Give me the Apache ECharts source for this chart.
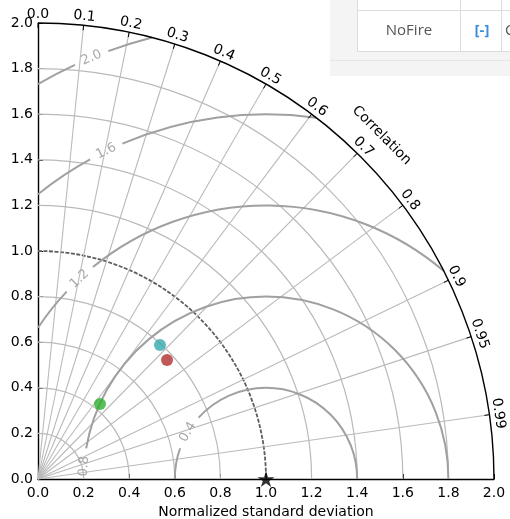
<!DOCTYPE html>
<html><head><meta charset="utf-8">
<script src="https://cdn.jsdelivr.net/npm/echarts@6/dist/echarts.min.js"></script>
<style>html,body{margin:0;padding:0;background:#fff}#c{width:510px;height:519px}</style>
</head><body><div id="c"></div>
<script>
// ---- data ----
const stdAxisTicks = [0.0, 0.2, 0.4, 0.6, 0.8, 1.0, 1.2, 1.4, 1.6, 1.8, 2.0];
const stdGridRadii = [0.2, 0.4, 0.6, 0.8, 1.0, 1.2, 1.4, 1.6, 1.8];
const corrGridValues = [0.1, 0.2, 0.3, 0.4, 0.5, 0.6, 0.7, 0.8, 0.9, 0.95, 0.99];
const corrTickValues = [0.0, 0.1, 0.2, 0.3, 0.4, 0.5, 0.6, 0.7, 0.8, 0.9, 0.95, 0.99];
const corrTickLabels = ['0.0', '0.1', '0.2', '0.3', '0.4', '0.5', '0.6', '0.7', '0.8', '0.9', '0.95', '0.99'];
const rmsLevels = [0.4, 0.8, 1.2, 1.6, 2.0];
const rmsLabels = ['0.4', '0.8', '1.2', '1.6', '2.0'];
const rmsLabelAngleDeg = [149, 176, 133, 116, 112.5];
const maxStd = 2.0;
const refStd = 1.0;
const modelStd = [0.795, 0.770, 0.427];
const modelCorr = [0.673, 0.735, 0.637];
const xAxisName = 'Normalized standard deviation';
const corrAxisName = 'Correlation';

// ---- styles ----
const modelColors = ['#35a9ac', '#b02e2e', '#30b030'];
const FONT = 'DejaVu Sans';
const gridColor = '#bababa';
const rmsColor = '#a0a0a0';

const chart = echarts.init(document.getElementById('c'), null, {renderer: 'canvas'});
const D = Math.PI / 180;

function toXY(std, corr) {
  const th = Math.acos(corr);
  return [std * Math.cos(th), std * Math.sin(th)];
}

const modelData = modelStd.map((s, i) => {
  const p = toXY(s, modelCorr[i]);
  return {value: p, itemStyle: {color: modelColors[i]}};
});

const axisCommon = {
  type: 'value', min: 0, max: maxStd, interval: 0.2,
  splitLine: {show: false},
  axisLine: {lineStyle: {color: '#000', width: 1.4}},
  axisTick: {inside: true, length: 5, lineStyle: {color: '#000'}},
  axisLabel: {color: '#000', fontFamily: FONT, fontSize: 14, formatter: v => v.toFixed(1)}
};

const option = {
  animation: false,
  grid: {left: 38, top: 23, width: 456, height: 456, outerBoundsMode: 'none', containLabel: false},
  xAxis: Object.assign({}, axisCommon, {
    name: xAxisName, nameLocation: 'middle', nameGap: 25,
    nameTextStyle: {color: '#000', fontFamily: FONT, fontSize: 14},
    axisLabel: Object.assign({}, axisCommon.axisLabel, {margin: 7})
  }),
  yAxis: Object.assign({}, axisCommon, {
    axisLabel: Object.assign({}, axisCommon.axisLabel, {margin: 5})
  }),
  series: [
    // std arcs
    {
      type: 'custom', z: 1, clip: false, silent: true,
      data: stdGridRadii.map(r => [r]),
      renderItem(params, api) {
        const r = api.value(0);
        const c = api.coord([0, 0]);
        const R = api.size([r, 0])[0];
        if (Math.abs(r - refStd) < 1e-9) {
          return {type: 'arc', shape: {cx: c[0], cy: c[1], r: R, startAngle: -Math.PI / 2, endAngle: 0, clockwise: true},
            style: {stroke: '#5e5e5e', lineWidth: 1.8, lineDash: [4, 1.5], fill: 'none'}};
        }
        return {type: 'arc', shape: {cx: c[0], cy: c[1], r: R, startAngle: -Math.PI / 2, endAngle: 0, clockwise: true},
          style: {stroke: gridColor, lineWidth: 1.2, fill: 'none'}};
      }
    },
    // correlation radial lines
    {
      type: 'custom', z: 1, clip: false, silent: true,
      data: corrGridValues.map(v => [v]),
      renderItem(params, api) {
        const p0 = api.coord([0, 0]);
        const p1 = api.coord(toXY(maxStd, api.value(0)));
        return {type: 'line', shape: {x1: p0[0], y1: p0[1], x2: p1[0], y2: p1[1]},
          style: {stroke: gridColor, lineWidth: 1.1}};
      }
    },
    // RMS contours
    {
      type: 'custom', z: 2, clip: false, silent: true,
      data: rmsLevels.map((r, i) => [r, rmsLabelAngleDeg[i], i]),
      renderItem(params, api) {
        const r = api.value(0);
        const la = api.value(1) * D;
        const idx = api.value(2);
        const c = api.coord([refStd, 0]);
        const R = api.size([r, 0])[0];
        const unit = api.size([1, 0])[0];
        let a0 = 0, a1 = Math.PI;
        if (refStd + r > maxStd) {
          const x = (maxStd * maxStd - r * r + refStd * refStd) / (2 * refStd);
          const y = Math.sqrt(maxStd * maxStd - x * x);
          a0 = Math.atan2(y, x - refStd);
        }
        if (r > refStd) {
          const y = Math.sqrt(r * r - refStd * refStd);
          a1 = Math.atan2(y, -refStd);
        }
        const half = 18 / (r * unit);
        const segs = [[a0, Math.max(a0, la - half)], [Math.min(a1, la + half), a1]];
        const children = [];
        segs.forEach(s => {
          if (s[1] - s[0] > 1e-3) {
            children.push({type: 'arc', shape: {cx: c[0], cy: c[1], r: R, startAngle: -s[0], endAngle: -s[1], clockwise: false},
              style: {stroke: rmsColor, lineWidth: 2, fill: 'none'}});
          }
        });
        const lp = api.coord([refStd + r * Math.cos(la), r * Math.sin(la)]);
        children.push({type: 'text', x: lp[0], y: lp[1], rotation: la - Math.PI / 2,
          style: {text: rmsLabels[idx], fill: '#a8a8a8', font: '13px "DejaVu Sans"', align: 'center', verticalAlign: 'middle',
            textAlign: 'center', textVerticalAlign: 'middle'}});
        return {type: 'group', children};
      }
    },
    // outer arc + correlation ticks/labels
    {
      type: 'custom', z: 3, clip: false, silent: true,
      data: corrTickValues.map((v, i) => [v, i]),
      renderItem(params, api) {
        const v = api.value(0);
        const i = api.value(1);
        const c = api.coord([0, 0]);
        const R = api.size([maxStd, 0])[0];
        const th = Math.acos(v);
        const cs = Math.cos(th), sn = Math.sin(th);
        const children = [];
        if (i === 0) {
          children.push({type: 'arc', shape: {cx: c[0], cy: c[1], r: R, startAngle: -Math.PI / 2, endAngle: 0, clockwise: true},
            style: {stroke: '#000', lineWidth: 1.4, fill: 'none'}});
          const na = 45 * D;
          const nr = R + 30;
          children.push({type: 'text', x: c[0] + nr * Math.cos(na), y: c[1] - nr * Math.sin(na), rotation: na - Math.PI / 2,
            style: {text: corrAxisName, fill: '#000', font: '14px "DejaVu Sans"', align: 'center', verticalAlign: 'middle',
              textAlign: 'center', textVerticalAlign: 'middle'}});
        }
        children.push({type: 'line', shape: {x1: c[0] + R * cs, y1: c[1] - R * sn, x2: c[0] + (R - 5) * cs, y2: c[1] - (R - 5) * sn},
          style: {stroke: '#000', lineWidth: 1}});
        const lr = R + 9;
        children.push({type: 'text', x: c[0] + lr * cs, y: c[1] - lr * sn, rotation: th - Math.PI / 2,
          style: {text: corrTickLabels[i], fill: '#000', font: '14px "DejaVu Sans"', align: 'center', verticalAlign: 'middle',
            textAlign: 'center', textVerticalAlign: 'middle'}});
        return {type: 'group', children};
      }
    },
    // models
    {
      type: 'scatter', z: 5, clip: false, symbol: 'circle', symbolSize: 12,
      data: modelData
    },
    // reference star
    {
      type: 'scatter', z: 6, clip: false, symbolKeepAspect: true,
      symbol: 'path://M50,0 L61,35 L98,35 L68,57 L79,91 L50,70 L21,91 L32,57 L2,35 L39,35 Z',
      symbolSize: 17, itemStyle: {color: '#000'},
      data: [[refStd, 0]]
    }
  ],
  graphic: [
    {type: 'rect', z: 100, shape: {x: 330, y: 0, width: 180, height: 76}, style: {fill: '#f4f4f4'}},
    {type: 'line', z: 101, shape: {x1: 330, y1: 60.5, x2: 510, y2: 60.5}, style: {stroke: '#e6e6e6', lineWidth: 1}},
    {type: 'rect', z: 102, shape: {x: 357.5, y: -2, width: 160, height: 53.5}, style: {fill: '#fff', stroke: '#dcdcdc', lineWidth: 1}},
    {type: 'line', z: 103, shape: {x1: 357, y1: 10.5, x2: 510, y2: 10.5}, style: {stroke: '#dcdcdc', lineWidth: 1}},
    {type: 'line', z: 103, shape: {x1: 460.5, y1: 0, x2: 460.5, y2: 51}, style: {stroke: '#dcdcdc', lineWidth: 1}},
    {type: 'line', z: 103, shape: {x1: 501.5, y1: 0, x2: 501.5, y2: 51}, style: {stroke: '#dcdcdc', lineWidth: 1}},
    {type: 'text', z: 104, x: 409, y: 31, style: {text: 'NoFire', fill: '#555', font: '15px "Open Sans"', align: 'center', verticalAlign: 'middle'}},
    {type: 'text', z: 104, x: 482, y: 31, style: {text: '[-]', fill: '#3b8fd8', font: 'bold 15px "Open Sans"', align: 'center', verticalAlign: 'middle'}},
    {type: 'text', z: 104, x: 505, y: 31, style: {text: 'C', fill: '#555', font: '15px "Open Sans"', align: 'left', verticalAlign: 'middle'}}
  ]
};
chart.setOption(option);
</script>
</body></html>
